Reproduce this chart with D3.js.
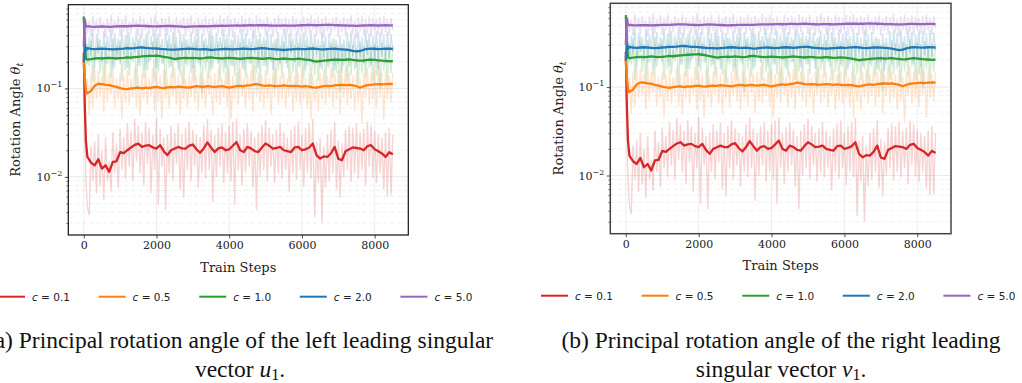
<!DOCTYPE html>
<html><head><meta charset="utf-8">
<script src="https://cdn.jsdelivr.net/npm/d3@7"></script>
<style>body{margin:0;background:#fff}svg{display:block}</style>
</head><body>
<svg id="chart" width="1022" height="383"></svg>
<script>
// ---------- data ----------
const cLabels = ["0.1", "0.5", "1.0", "2.0", "5.0"];
const colors = ["#d62728", "#ff7f0e", "#2ca02c", "#1f77b4", "#9467bd"];
const xTickValues = [0, 2000, 4000, 6000, 8000];
const yMajorTicks = [0.01, 0.1];
const smoothSteps = [0, 30, 60].concat(d3.range(100, 8501, 100));
const rawSteps = d3.range(0, 8501, 50);

const smoothRed = [0.25,0.06,0.025,
0.0168,0.0145,0.0135,0.0158,0.0124,0.0135,0.0114,0.0148,0.0150,0.0190,
0.0185,0.0200,0.0215,0.0230,0.0238,0.0218,0.0225,0.0228,0.0215,0.0209,
0.0228,0.0195,0.0176,0.0200,0.0209,0.0218,0.0210,0.0209,0.0225,0.0232,
0.0205,0.0187,0.0210,0.0245,0.0215,0.0191,0.0210,0.0215,0.0200,0.0205,
0.0225,0.0248,0.0200,0.0191,0.0218,0.0210,0.0195,0.0191,0.0215,0.0238,
0.0225,0.0209,0.0212,0.0218,0.0200,0.0195,0.0191,0.0215,0.0218,0.0200,
0.0205,0.0215,0.0238,0.0176,0.0161,0.0170,0.0168,0.0185,0.0218,0.0160,
0.0154,0.0195,0.0205,0.0215,0.0212,0.0209,0.0200,0.0222,0.0228,0.0205,
0.0195,0.0184,0.0168,0.0190,0.0180];
const smoothOrange = [0.2,0.13,0.095,
0.088,0.094,0.107,0.113,0.112,0.110,0.109,0.106,0.104,0.101,
0.099,0.098,0.100,0.101,0.102,0.100,0.102,0.101,0.103,0.104,
0.102,0.101,0.103,0.104,0.103,0.105,0.104,0.103,0.102,0.104,
0.106,0.105,0.104,0.106,0.105,0.104,0.105,0.106,0.104,0.102,
0.104,0.106,0.107,0.106,0.108,0.109,0.112,0.111,0.108,0.107,
0.108,0.107,0.106,0.107,0.108,0.107,0.106,0.107,0.106,0.105,
0.106,0.105,0.103,0.102,0.104,0.106,0.107,0.106,0.108,0.109,
0.110,0.109,0.110,0.108,0.106,0.102,0.106,0.109,0.110,0.111,
0.112,0.111,0.112,0.113,0.112];
const smoothGreen = [0.65,0.3,0.215,
0.212,0.215,0.218,0.220,0.218,0.220,0.222,0.220,0.218,0.220,
0.222,0.225,0.223,0.226,0.228,0.230,0.232,0.233,0.234,0.235,
0.232,0.228,0.224,0.220,0.215,0.218,0.220,0.221,0.220,0.222,
0.220,0.218,0.220,0.223,0.225,0.222,0.220,0.218,0.220,0.221,
0.220,0.218,0.216,0.218,0.220,0.222,0.220,0.218,0.216,0.218,
0.220,0.217,0.215,0.216,0.218,0.216,0.214,0.215,0.217,0.215,
0.212,0.210,0.205,0.201,0.204,0.206,0.208,0.210,0.211,0.212,
0.210,0.211,0.213,0.210,0.208,0.206,0.207,0.210,0.212,0.210,
0.208,0.206,0.205,0.203,0.204];
const smoothBlue = [0.2,0.31,0.27,
0.285,0.280,0.278,0.280,0.282,0.280,0.278,0.276,0.278,0.280,
0.282,0.285,0.284,0.286,0.290,0.292,0.288,0.285,0.284,0.283,
0.280,0.278,0.276,0.275,0.274,0.276,0.278,0.280,0.282,0.280,
0.278,0.277,0.279,0.276,0.272,0.274,0.277,0.279,0.280,0.278,
0.276,0.278,0.280,0.282,0.280,0.278,0.280,0.283,0.285,0.284,
0.280,0.278,0.276,0.274,0.272,0.274,0.276,0.278,0.280,0.278,
0.279,0.281,0.283,0.280,0.277,0.276,0.278,0.280,0.281,0.279,
0.277,0.275,0.272,0.266,0.262,0.265,0.274,0.280,0.282,0.281,
0.279,0.280,0.282,0.281,0.280];
const smoothPurple = [0.3,0.6,0.5,
0.505,0.500,0.498,0.500,0.502,0.500,0.498,0.500,0.502,0.505,
0.506,0.505,0.508,0.510,0.512,0.510,0.508,0.505,0.503,0.502,
0.505,0.507,0.510,0.508,0.505,0.503,0.500,0.498,0.500,0.502,
0.504,0.506,0.505,0.504,0.506,0.508,0.510,0.512,0.510,0.512,
0.514,0.515,0.513,0.515,0.517,0.518,0.516,0.518,0.520,0.518,
0.515,0.513,0.512,0.514,0.515,0.513,0.512,0.514,0.516,0.518,
0.520,0.522,0.520,0.518,0.520,0.522,0.524,0.522,0.520,0.518,
0.516,0.515,0.514,0.512,0.510,0.512,0.515,0.517,0.518,0.516,
0.515,0.516,0.518,0.517,0.516];

const rawRed = [0.30,0.012,0.0045,0.0037,0.022,0.009,0.025,0.0065,0.03,0.008,
0.02,0.0055,0.028,0.009,0.015,0.0068,0.032,0.011,0.024,0.0075,
0.035,0.012,0.028,0.0095,0.04,0.013,0.033,0.009,0.045,0.015,
0.038,0.011,0.032,0.008,0.042,0.014,0.036,0.0065,0.03,0.012,
0.046,0.0048,0.035,0.013,0.028,0.0042,0.03,0.011,0.038,0.009,
0.032,0.014,0.04,0.007,0.03,0.0058,0.036,0.012,0.042,0.009,
0.034,0.013,0.03,0.0075,0.028,0.011,0.038,0.0095,0.045,0.012,
0.034,0.0052,0.03,0.01,0.036,0.013,0.04,0.0085,0.032,0.011,
0.038,0.009,0.042,0.0048,0.046,0.012,0.03,0.008,0.035,0.011,
0.04,0.013,0.033,0.0075,0.028,0.0042,0.032,0.01,0.038,0.012,
0.044,0.009,0.036,0.013,0.03,0.0085,0.034,0.011,0.04,0.0095,
0.032,0.012,0.028,0.0068,0.034,0.011,0.038,0.0092,0.042,0.012,
0.03,0.0078,0.036,0.011,0.04,0.0095,0.045,0.0035,0.025,0.0085,
0.028,0.003,0.022,0.0075,0.03,0.009,0.034,0.011,0.042,0.0072,
0.026,0.0058,0.024,0.01,0.034,0.012,0.038,0.0088,0.036,0.011,
0.04,0.0095,0.032,0.012,0.035,0.008,0.042,0.013,0.038,0.0098,
0.033,0.0085,0.03,0.011,0.028,0.0072,0.032,0.006,0.036,0.0062,
0.03];
const rawOrange = [0.2,0.07,0.13,0.05,0.15,0.06,0.17,0.075,0.16,0.08,
0.14,0.055,0.18,0.07,0.15,0.085,0.16,0.06,0.13,0.075,
0.15,0.045,0.14,0.07,0.16,0.065,0.13,0.08,0.17,0.06,
0.14,0.05,0.15,0.075,0.16,0.065,0.13,0.08,0.17,0.055,
0.15,0.07,0.14,0.045,0.16,0.075,0.13,0.06,0.15,0.08,
0.17,0.065,0.14,0.05,0.16,0.075,0.13,0.06,0.15,0.08,
0.18,0.07,0.14,0.055,0.15,0.075,0.13,0.06,0.16,0.085,
0.14,0.05,0.15,0.07,0.17,0.065,0.13,0.08,0.15,0.06,
0.16,0.045,0.14,0.075,0.15,0.065,0.17,0.08,0.13,0.06,
0.15,0.075,0.16,0.055,0.18,0.08,0.15,0.07,0.14,0.06,
0.16,0.075,0.13,0.05,0.15,0.08,0.17,0.065,0.14,0.075,
0.15,0.06,0.13,0.08,0.16,0.055,0.14,0.07,0.15,0.065,
0.17,0.075,0.13,0.06,0.15,0.045,0.14,0.07,0.13,0.055,
0.15,0.075,0.16,0.065,0.14,0.08,0.17,0.06,0.15,0.075,
0.16,0.05,0.14,0.08,0.18,0.065,0.15,0.075,0.14,0.055,
0.16,0.07,0.13,0.04,0.15,0.08,0.17,0.065,0.15,0.075,
0.16,0.06,0.18,0.08,0.15,0.045,0.16,0.075,0.14,0.07,
0.15];
const rawGreen = [0.65,0.14,0.32,0.18,0.36,0.12,0.28,0.21,0.38,0.15,
0.30,0.11,0.34,0.19,0.27,0.13,0.37,0.17,0.31,0.22,
0.35,0.12,0.29,0.16,0.39,0.14,0.26,0.20,0.33,0.10,
0.36,0.18,0.30,0.13,0.40,0.16,0.28,0.21,0.34,0.12,
0.37,0.15,0.31,0.19,0.27,0.10,0.35,0.17,0.32,0.13,
0.38,0.20,0.29,0.14,0.34,0.11,0.36,0.18,0.30,0.15,
0.33,0.12,0.37,0.19,0.28,0.09,0.35,0.16,0.31,0.13,
0.39,0.17,0.29,0.21,0.34,0.12,0.32,0.15,0.36,0.11,
0.30,0.18,0.35,0.14,0.27,0.10,0.33,0.17,0.37,0.13,
0.31,0.19,0.34,0.12,0.29,0.15,0.36,0.11,0.32,0.18,
0.35,0.14,0.28,0.20,0.33,0.10,0.37,0.16,0.30,0.13,
0.34,0.19,0.29,0.12,0.36,0.15,0.31,0.11,0.33,0.17,
0.28,0.13,0.35,0.18,0.30,0.10,0.32,0.14,0.27,0.12,
0.31,0.16,0.34,0.11,0.29,0.17,0.33,0.13,0.36,0.15,
0.30,0.09,0.32,0.18,0.28,0.12,0.34,0.14,0.31,0.16,
0.29,0.11,0.33,0.15,0.30,0.13,0.35,0.17,0.28,0.12,
0.32,0.14,0.30,0.10,0.33,0.16,0.29,0.12,0.31,0.15,
0.30];
const rawBlue = [0.30,0.44,0.19,0.38,0.23,0.47,0.17,0.41,0.25,0.36,
0.20,0.45,0.18,0.39,0.26,0.48,0.16,0.42,0.22,0.37,
0.19,0.46,0.24,0.40,0.17,0.43,0.21,0.38,0.26,0.47,
0.18,0.41,0.23,0.36,0.16,0.44,0.20,0.39,0.25,0.46,
0.17,0.42,0.22,0.37,0.19,0.48,0.24,0.40,0.18,0.43,
0.21,0.38,0.16,0.45,0.23,0.41,0.19,0.36,0.25,0.44,
0.17,0.39,0.22,0.47,0.18,0.42,0.24,0.37,0.20,0.45,
0.16,0.40,0.23,0.43,0.19,0.38,0.26,0.46,0.17,0.41,
0.21,0.36,0.18,0.44,0.24,0.39,0.20,0.47,0.16,0.42,
0.22,0.37,0.19,0.45,0.25,0.40,0.17,0.43,0.21,0.38,
0.18,0.46,0.23,0.41,0.16,0.36,0.24,0.44,0.19,0.39,
0.22,0.47,0.17,0.42,0.25,0.37,0.20,0.45,0.18,0.40,
0.23,0.43,0.16,0.38,0.21,0.46,0.19,0.41,0.24,0.36,
0.17,0.44,0.22,0.39,0.18,0.42,0.20,0.37,0.16,0.35,
0.19,0.40,0.15,0.36,0.21,0.43,0.18,0.45,0.23,0.41,
0.17,0.44,0.22,0.38,0.19,0.46,0.24,0.42,0.18,0.39,
0.21,0.45,0.17,0.43,0.23,0.40,0.19,0.44,0.22,0.41,
0.26];
const rawPurple = [0.30,0.62,0.42,0.58,0.38,0.66,0.45,0.60,0.40,0.64,
0.47,0.57,0.37,0.63,0.43,0.68,0.41,0.59,0.46,0.65,
0.39,0.61,0.44,0.67,0.38,0.58,0.42,0.63,0.47,0.60,
0.40,0.66,0.36,0.62,0.45,0.57,0.41,0.64,0.39,0.68,
0.44,0.59,0.38,0.63,0.46,0.61,0.40,0.66,0.43,0.58,
0.37,0.65,0.42,0.60,0.47,0.64,0.39,0.62,0.44,0.67,
0.41,0.58,0.38,0.63,0.45,0.60,0.40,0.66,0.43,0.61,
0.37,0.64,0.46,0.59,0.42,0.68,0.39,0.62,0.44,0.65,
0.40,0.60,0.38,0.63,0.46,0.58,0.41,0.66,0.43,0.61,
0.39,0.64,0.45,0.59,0.37,0.67,0.42,0.62,0.47,0.60,
0.40,0.65,0.44,0.58,0.38,0.63,0.41,0.68,0.46,0.61,
0.39,0.64,0.43,0.60,0.37,0.66,0.45,0.62,0.40,0.59,
0.44,0.65,0.38,0.63,0.42,0.67,0.46,0.60,0.39,0.64,
0.41,0.61,0.37,0.66,0.44,0.58,0.40,0.63,0.45,0.65,
0.38,0.60,0.43,0.64,0.39,0.62,0.46,0.67,0.41,0.59,
0.37,0.63,0.44,0.66,0.40,0.61,0.42,0.65,0.38,0.62,
0.45,0.60,0.41,0.64,0.39,0.66,0.43,0.61,0.40,0.63,
0.46];

const smoothSeries = [smoothRed, smoothOrange, smoothGreen, smoothBlue, smoothPurple];
const rawSeries = [rawRed, rawOrange, rawGreen, rawBlue, rawPurple];

const panels = [
  {id:"a", left:68.3, right:408.3, top:4.7, bottom:235, ylabelX:15, legendY:296.7, legendX0:-2,
   frame:"#111", frameW:1.2, capX:240, capY:[347.5,377.3],
   cap1:"(a) Principal rotation angle of the left leading singular", capPre:"vector ", capVar:"u"},
  {id:"b", left:610.3, right:951, top:3.3, bottom:233.7, ylabelX:558, legendY:295.7, legendX0:541,
   frame:"#444", frameW:1.5, capX:781, capY:[347.5,376.5],
   cap1:"(b) Principal rotation angle of the right leading", capPre:"singular vector ", capVar:"v"}
];

// ---------- drawing ----------
const svg = d3.select("#chart");
const serif = "'DejaVu Serif', serif";

panels.forEach((p) => {
  const x = d3.scaleLinear().domain([-425, 8925]).range([p.left, p.right]);
  const y = d3.scaleLog().domain([0.0022, 0.885]).range([p.bottom, p.top]);
  const g = svg.append("g");

  const clipId = "clip" + p.id;
  svg.append("clipPath").attr("id", clipId).append("rect")
    .attr("x", p.left).attr("y", p.top).attr("width", p.right - p.left).attr("height", p.bottom - p.top);

  const minor = [];
  [0.001, 0.01, 0.1].forEach(d => { for (let k = 2; k <= 9; k++) { const v = d * k; if (v > 0.0022 && v < 0.885) minor.push(v); } });

  // grids
  g.selectAll(".mg").data(minor).enter().append("line")
    .attr("x1", p.left).attr("x2", p.right).attr("y1", d => y(d)).attr("y2", d => y(d))
    .attr("stroke", "#e6e6e6").attr("stroke-width", 0.6).attr("stroke-dasharray", "4,3");
  g.selectAll(".Mg").data(yMajorTicks).enter().append("line")
    .attr("x1", p.left).attr("x2", p.right).attr("y1", d => y(d)).attr("y2", d => y(d))
    .attr("stroke", "#e3e3e3").attr("stroke-width", 0.8);
  g.selectAll(".xg").data(xTickValues).enter().append("line")
    .attr("y1", p.top).attr("y2", p.bottom).attr("x1", d => x(d)).attr("x2", d => x(d))
    .attr("stroke", "#e8e8e8").attr("stroke-width", 0.8);

  const line = d3.line().x(d => x(d[0])).y(d => y(d[1]));
  const plot = g.append("g").attr("clip-path", `url(#${clipId})`);

  for (let s = 0; s < 5; s++) {
    const rv = rawSeries[s];
    const rawPts = d3.range(Math.min(rawSteps.length, rv.length)).map(i => [rawSteps[i], rv[i]]);
    plot.append("path").attr("d", line(rawPts)).attr("fill", "none")
      .attr("stroke", colors[s]).attr("stroke-opacity", 0.2).attr("stroke-width", 1.4);
    const sv = smoothSeries[s];
    const smPts = d3.range(Math.min(smoothSteps.length, sv.length)).map(i => [smoothSteps[i], sv[i]]);
    plot.append("path").attr("d", line(smPts)).attr("fill", "none")
      .attr("stroke", colors[s]).attr("stroke-width", 2.3).attr("stroke-linejoin", "round");
  }

  // axes
  const xAxis = d3.axisBottom(x).tickValues(xTickValues).tickSize(3.5).tickPadding(3).tickFormat(d3.format("d"));
  const gx = g.append("g").attr("transform", `translate(0,${p.bottom})`).call(xAxis);
  gx.select(".domain").remove();
  gx.selectAll("line").attr("stroke", "#222").attr("stroke-width", 0.8);
  gx.selectAll("text").attr("font-family", serif).attr("font-size", 11).attr("fill", "#222");

  const yAxis = d3.axisLeft(y).tickValues(yMajorTicks).tickSize(3.5).tickFormat("");
  const gy = g.append("g").attr("transform", `translate(${p.left},0)`).call(yAxis);
  gy.select(".domain").remove();
  gy.selectAll("line").attr("stroke", "#222").attr("stroke-width", 0.8);
  const yMinorAxis = d3.axisLeft(y).tickValues(minor).tickSize(2).tickFormat("");
  const gym = g.append("g").attr("transform", `translate(${p.left},0)`).call(yMinorAxis);
  gym.select(".domain").remove();
  gym.selectAll("line").attr("stroke", "#222").attr("stroke-width", 0.6);

  yMajorTicks.forEach(v => {
    const exp = Math.round(Math.log10(v));
    const t = g.append("text").attr("x", p.left - 6).attr("y", y(v) + 4)
      .attr("text-anchor", "end").attr("font-family", serif).attr("font-size", 11).attr("fill", "#222");
    t.append("tspan").text("10");
    t.append("tspan").attr("dy", -5).attr("font-size", 8).text("\u2212" + Math.abs(exp));
  });

  g.append("rect").attr("x", p.left).attr("y", p.top).attr("width", p.right - p.left).attr("height", p.bottom - p.top)
    .attr("fill", "none").attr("stroke", p.frame).attr("stroke-width", p.frameW);

  g.append("text").attr("x", (p.left + p.right) / 2).attr("y", p.bottom + 36.5)
    .attr("text-anchor", "middle").attr("font-family", serif).attr("font-size", 13).attr("fill", "#222")
    .text("Train Steps");
  const yl = g.append("text").attr("transform", `translate(${p.ylabelX + 4.5},${(p.top + p.bottom) / 2}) rotate(-90)`)
    .attr("text-anchor", "middle").attr("font-family", serif).attr("font-size", 13).attr("fill", "#222");
  yl.append("tspan").text("Rotation Angle ");
  yl.append("tspan").attr("font-style", "italic").text("\u03b8");
  yl.append("tspan").attr("font-style", "italic").attr("font-size", 9).attr("dy", 3).text("t");

  const lg = g.append("g");
  cLabels.forEach((c, i) => {
    const lx = p.legendX0 + i * 100.6;
    lg.append("line").attr("x1", lx).attr("x2", lx + 27).attr("y1", p.legendY).attr("y2", p.legendY)
      .attr("stroke", colors[i]).attr("stroke-width", 2);
    const t = lg.append("text").attr("x", lx + 34).attr("y", p.legendY + 4)
      .attr("font-family", "'DejaVu Sans', sans-serif").attr("font-size", 10.5).attr("fill", "#222");
    t.append("tspan").attr("font-style", "italic").text("c");
    t.append("tspan").text(" = " + c);
  });

  const capFont = "'Liberation Serif', 'Times New Roman', serif";
  g.append("text").attr("x", p.capX).attr("y", p.capY[0]).attr("text-anchor", "middle")
    .attr("font-family", capFont).attr("font-size", 23.5).attr("fill", "#111").text(p.cap1);
  const c2 = g.append("text").attr("x", p.capX).attr("y", p.capY[1]).attr("text-anchor", "middle")
    .attr("font-family", capFont).attr("font-size", 23.5).attr("fill", "#111");
  c2.append("tspan").text(p.capPre);
  c2.append("tspan").attr("font-style", "italic").text(p.capVar);
  c2.append("tspan").attr("font-size", 16).attr("dy", 3).text("1");
  c2.append("tspan").attr("dy", -3).text(".");
});
</script>
</body></html>
